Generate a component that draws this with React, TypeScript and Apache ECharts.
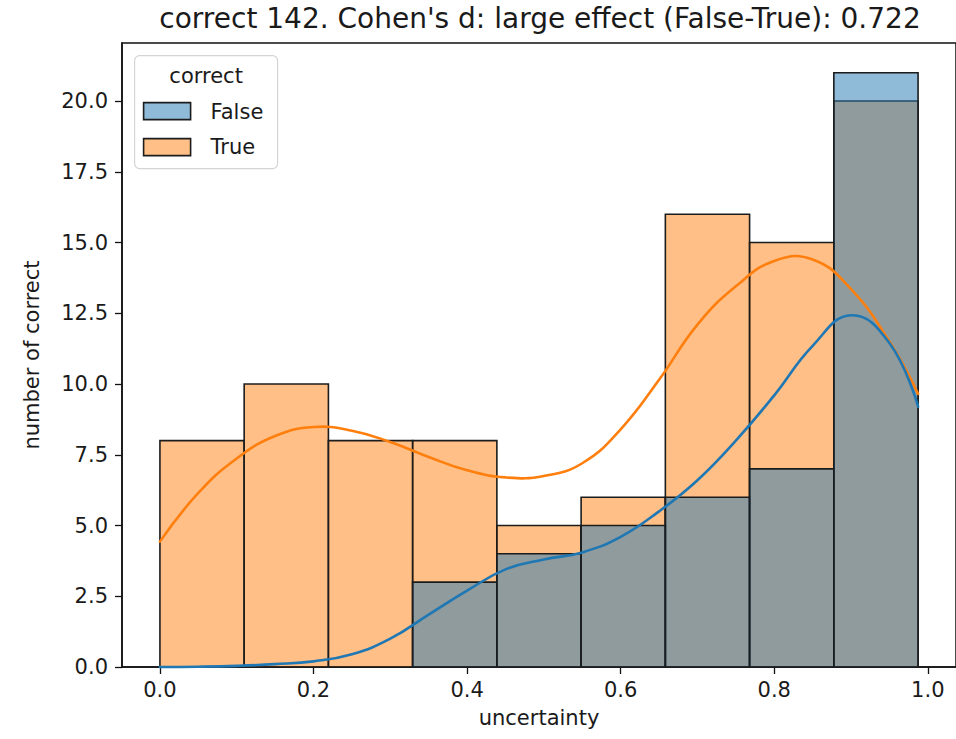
import React, { useEffect, useRef } from "react";
import * as echarts from "echarts";

const titleText = "correct 142. Cohen's d: large effect (False-True): 0.722";
const xLabel = "uncertainty";
const yLabel = "number of correct";
const legendTitle = "correct";
const hueNames = ["False", "True"];

const binEdges = [0, 0.1097, 0.2194, 0.3291, 0.4388, 0.5485, 0.6582, 0.7679, 0.8776, 0.9873];
const countsFalse = [0, 0, 0, 3, 4, 5, 6, 7, 21];
const countsTrue = [8, 10, 8, 8, 5, 6, 16, 15, 20];

const kdeX = [0, 0.05, 0.1, 0.15, 0.2, 0.25, 0.3, 0.35, 0.4, 0.45, 0.5, 0.55, 0.6, 0.65, 0.7, 0.75, 0.8, 0.85, 0.9, 0.95, 0.9873];
const kdeTrue = [4.43, 6.15, 7.37, 8.16, 8.48, 8.35, 7.95, 7.42, 6.95, 6.7, 6.75, 7.2, 8.4, 10.15, 12.1, 13.45, 14.35, 14.4, 13.35, 11.5, 9.65];
const kdeFalse = [0, 0.01, 0.04, 0.1, 0.2, 0.45, 1.0, 1.85, 2.7, 3.45, 3.8, 4.05, 4.6, 5.5, 6.6, 8.0, 9.6, 11.35, 12.43, 11.45, 9.2];

const xTicks = [0, 0.2, 0.4, 0.6, 0.8, 1.0];
const yTicks = [0, 2.5, 5, 7.5, 10, 12.5, 15, 17.5, 20];

const BLUE = "#1f77b4";
const ORANGE = "#ff7f0e";
const FILL_BLUE = "rgba(31,119,180,0.5)";
const FILL_ORANGE = "rgba(255,127,14,0.5)";
const EDGE = "#1c1c1c";
const FONT = "DejaVu Sans";

function histData(counts: number[]) {
  return counts.map((c, i) => [binEdges[i], binEdges[i + 1], c]);
}

function histSeries(name: string, counts: number[], fill: string, z: number) {
  return {
    type: "custom",
    name,
    z,
    data: histData(counts),
    encode: { x: [0, 1], y: 2 },
    renderItem: (params: any, api: any) => {
      const x0 = api.value(0);
      const x1 = api.value(1);
      const v = api.value(2);
      if (v <= 0) return null;
      const p0 = api.coord([x0, v]);
      const p1 = api.coord([x1, 0]);
      return {
        type: "rect",
        shape: { x: p0[0], y: p0[1], width: p1[0] - p0[0], height: p1[1] - p0[1] },
        style: { fill, stroke: EDGE, lineWidth: 1.6 },
      };
    },
  };
}

function kdeSeries(name: string, ys: number[], color: string, z: number) {
  const data = kdeX.map((x, i) => [x, ys[i]]);
  return {
    type: "custom",
    name,
    z,
    data,
    encode: { x: 0, y: 1 },
    renderItem: (params: any, api: any) => {
      if (params.dataIndex !== 0) return null;
      const pts = data.map((d) => api.coord(d));
      return {
        type: "polyline",
        shape: { points: pts, smooth: 0.45 },
        style: { stroke: color, lineWidth: 2.6, fill: null, lineCap: "round", lineJoin: "round" },
      };
    },
  };
}

export default function App() {
  const ref = useRef<HTMLDivElement>(null);
  useEffect(() => {
    if (!ref.current) return;
    const chart = echarts.init(ref.current, null, { renderer: "svg" });
    const xMin = -0.0494;
    const xMax = 1.0367;
    const option: any = {
      animation: false,
      backgroundColor: "#ffffff",
      textStyle: { fontFamily: FONT },
      title: {
        text: titleText,
        left: 535,
        top: -1,
        textAlign: "center",
        textStyle: { fontFamily: FONT, fontSize: 28, fontWeight: "normal", color: "#1a1a1a" },
      },
      grid: {
        left: 122,
        top: 43,
        width: 837.5,
        height: 624,
        show: true,
        borderColor: "#111",
        borderWidth: 1.5,
        backgroundColor: "transparent",
      },
      xAxis: {
        type: "value",
        min: xMin,
        max: xMax,
        name: xLabel,
        nameLocation: "middle",
        nameGap: 40,
        nameTextStyle: { fontFamily: FONT, fontSize: 21, color: "#1a1a1a" },
        axisLine: { show: true, onZero: false, lineStyle: { color: "#111", width: 1.5 } },
        axisTick: { show: true, length: 7, customValues: xTicks, lineStyle: { color: "#111", width: 1.3 } },
        axisLabel: {
          customValues: xTicks,
          margin: 12,
          fontFamily: FONT,
          fontSize: 21,
          color: "#1a1a1a",
          formatter: (v: number) => v.toFixed(1),
        },
        splitLine: { show: false },
      },
      yAxis: {
        type: "value",
        min: 0,
        max: 22.05,
        name: yLabel,
        nameLocation: "middle",
        nameGap: 80,
        nameTextStyle: { fontFamily: FONT, fontSize: 21, color: "#1a1a1a" },
        axisLine: { show: true, onZero: false, lineStyle: { color: "#111", width: 1.5 } },
        axisTick: { show: true, length: 7, customValues: yTicks, lineStyle: { color: "#111", width: 1.3 } },
        axisLabel: {
          customValues: yTicks,
          margin: 14,
          fontFamily: FONT,
          fontSize: 21,
          color: "#1a1a1a",
          formatter: (v: number) => v.toFixed(1),
        },
        splitLine: { show: false },
      },
      series: [
        histSeries(hueNames[1], countsTrue, FILL_ORANGE, 2),
        histSeries(hueNames[0], countsFalse, FILL_BLUE, 3),
        kdeSeries(hueNames[1] + " kde", kdeTrue, ORANGE, 4),
        kdeSeries(hueNames[0] + " kde", kdeFalse, BLUE, 5),
      ],
      graphic: [
        {
          type: "group",
          left: 134,
          top: 55,
          children: [
            {
              type: "rect",
              shape: { x: 0, y: 0, width: 143, height: 113, r: 5 },
              style: { fill: "rgba(255,255,255,0.8)", stroke: "#d4d4d4", lineWidth: 1.2 },
            },
            {
              type: "text",
              x: 71.5,
              y: 20,
              style: { text: legendTitle, fontFamily: FONT, fontSize: 21, fill: "#1a1a1a", align: "center", verticalAlign: "middle" },
            },
            {
              type: "rect",
              shape: { x: 9, y: 47, width: 47, height: 17 },
              style: { fill: FILL_BLUE, stroke: EDGE, lineWidth: 1.6 },
            },
            {
              type: "text",
              x: 76,
              y: 56,
              style: { text: hueNames[0], fontFamily: FONT, fontSize: 21, fill: "#1a1a1a", align: "left", verticalAlign: "middle" },
            },
            {
              type: "rect",
              shape: { x: 9, y: 83, width: 47, height: 17 },
              style: { fill: FILL_ORANGE, stroke: EDGE, lineWidth: 1.6 },
            },
            {
              type: "text",
              x: 76,
              y: 91,
              style: { text: hueNames[1], fontFamily: FONT, fontSize: 21, fill: "#1a1a1a", align: "left", verticalAlign: "middle" },
            },
          ],
        },
      ],
    };
    chart.setOption(option);
    return () => chart.dispose();
  }, []);
  return (
    <div
      ref={ref}
      style={{ position: "absolute", left: 0, top: 0, width: 956, height: 739, background: "#fff" }}
    />
  );
}
